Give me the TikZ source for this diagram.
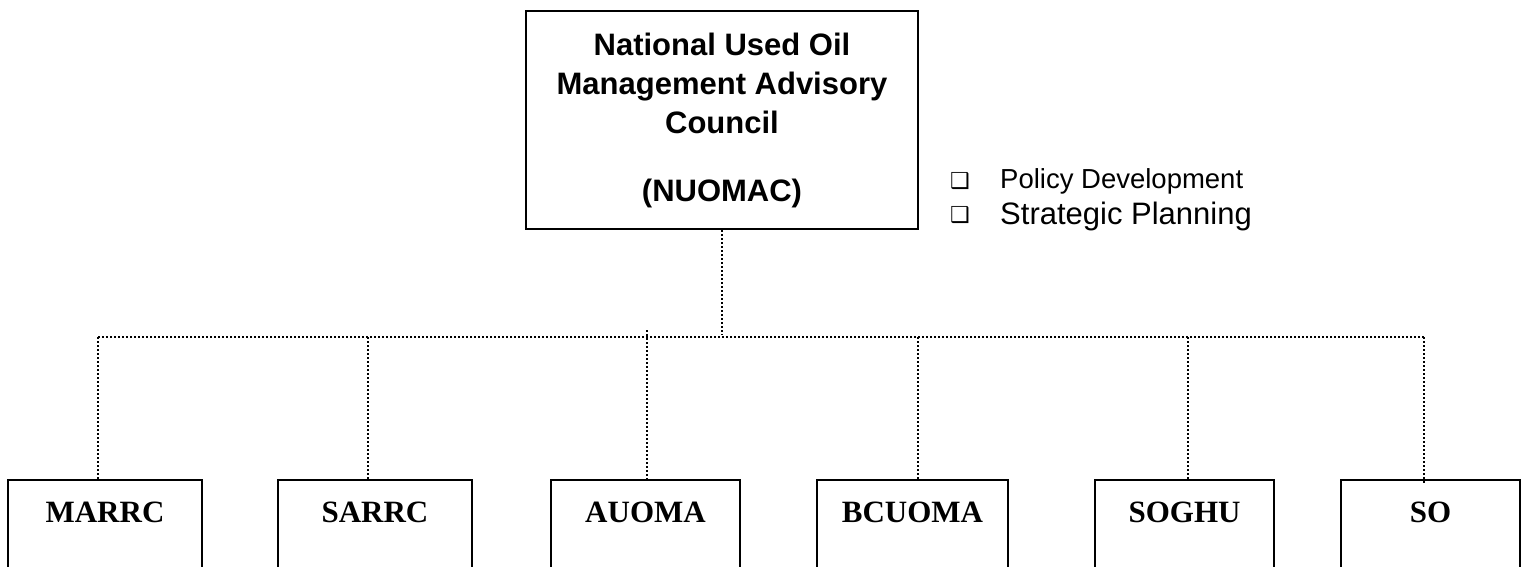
\documentclass[tikz,border=0pt]{standalone}
\usepackage{fontspec}
\setmainfont{Liberation Serif}
\newfontfamily\arialf{Liberation Sans}
\newfontfamily\dejavuf{DejaVu Sans}
\usetikzlibrary{calc}
\begin{document}
\begin{tikzpicture}[x=1pt,y=-1pt,
  box/.style={draw, line width=2pt, inner sep=0pt},
  childbox/.style={box, anchor=north, font=\fontsize{31}{31}\selectfont\bfseries,
    text height=21pt, text depth=100pt, inner ysep=21pt},
  conn/.style={line width=1.5pt, dash pattern=on 1.5pt off 2.5pt},
  bullet/.style={inner sep=0pt, font=\dejavuf\fontsize{22}{22}\selectfont},
  item/.style={inner sep=0pt, anchor=base west}]
\useasboundingbox (0,0) rectangle (1528,567);
\clip (0,0) rectangle (1528,567);
\node[box, minimum width=392pt, minimum height=218pt, align=center,
  font=\arialf\bfseries\fontsize{31}{39}\selectfont] (top) at (722,120)
  {National Used Oil\\Management Advisory\\Council\\[29pt](NUOMAC)};
\node[bullet] (b1) at (960,181) {❑};
\node[bullet] (b2) at (960,215) {❑};
\node[item, font=\arialf\fontsize{27.5}{30}\selectfont] (p1) at (1000,188) {Policy Development};
\node[item, font=\arialf\fontsize{31}{32}\selectfont] (p2) at (1000,224) {Strategic Planning};
\node[childbox, minimum width=194pt] (c1) at (105,479) {MARRC};
\node[childbox, minimum width=194pt] (c2) at (375,479) {SARRC};
\node[childbox, minimum width=189pt] (c3) at (645.5,479) {AUOMA};
\node[childbox, minimum width=191pt] (c4) at (912.5,479) {BCUOMA};
\node[childbox, minimum width=179pt] (c5) at (1184.5,479) {SOGHU};
\node[childbox, minimum width=179pt] (c6) at (1430.5,479) {SO};
\coordinate (bus) at (722,335);
\coordinate (d1) at (98,337);
\coordinate (d2) at (368,337);
\coordinate (d3) at (647,337);
\coordinate (d4) at (918,337);
\coordinate (d5) at (1188,337);
\coordinate (d6) at (1424,337);
\draw[conn] (top.south) -- (bus);
\draw[conn] (d1) -- (d6);
\draw[conn] (d1) -- (d1 |- c1.north);
\draw[conn] (d2) -- (d2 |- c2.north);
\draw[conn] ($(d3)+(0,-7)$) -- (d3 |- c3.north);
\draw[conn] (d4) -- (d4 |- c4.north);
\draw[conn] (d5) -- (d5 |- c5.north);
\draw[conn] (d6) -- ($(d6 |- c6.north)+(0,5)$);
\end{tikzpicture}
\end{document}
